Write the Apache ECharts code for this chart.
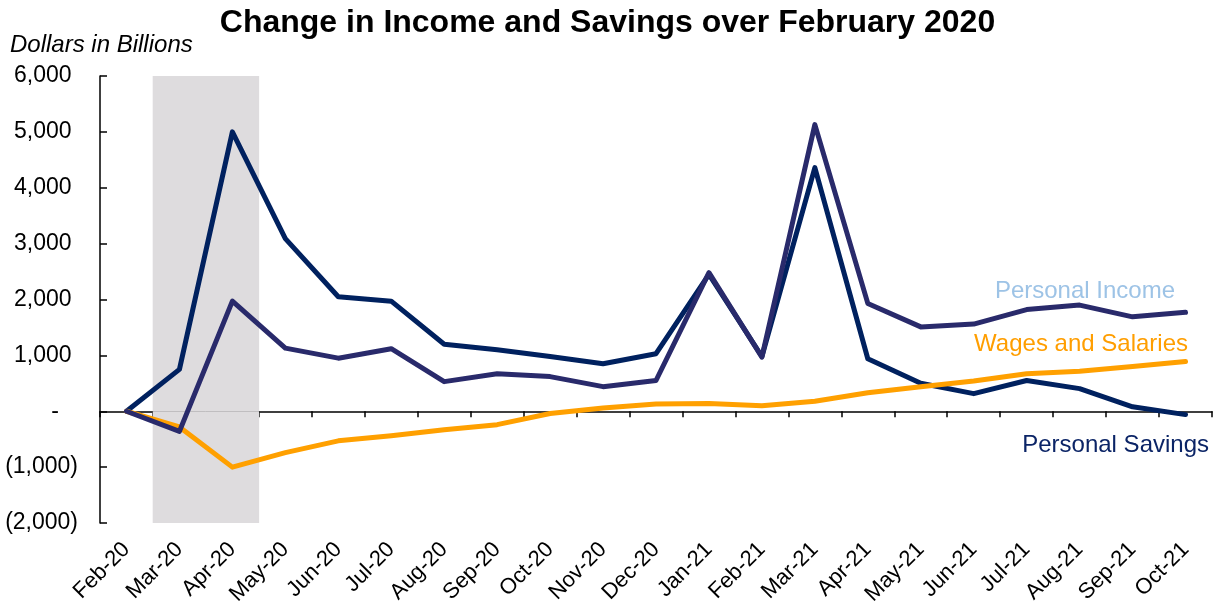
<!DOCTYPE html>
<html>
<head>
<meta charset="utf-8">
<script src="https://cdn.jsdelivr.net/npm/echarts@6/dist/echarts.min.js"></script>
<style>
  html, body { margin: 0; padding: 0; background: #ffffff; }
  #chart { width: 1215px; height: 613px; }
</style>
</head>
<body>
<div id="chart"></div>
<script>
// Months since February 2020
const months = ['Feb-20','Mar-20','Apr-20','May-20','Jun-20','Jul-20','Aug-20','Sep-20','Oct-20','Nov-20','Dec-20',
                'Jan-21','Feb-21','Mar-21','Apr-21','May-21','Jun-21','Jul-21','Aug-21','Sep-21','Oct-21'];

// Change relative to February 2020, dollars in billions (annualized)
const personalSavings = [0, 750, 5000, 3090, 2050, 1970, 1200, 1100, 980, 850, 1030,
                         2450, 980, 4360, 940, 500, 315, 550, 405, 80, -60];
const personalIncome  = [0, -360, 1970, 1130, 950, 1120, 530, 670, 620, 440, 550,
                         2480, 970, 5130, 1930, 1510, 1560, 1820, 1900, 1690, 1770];
const wagesSalaries   = [0, -280, -1000, -740, -530, -440, -330, -240, -40, 60, 130,
                         140, 100, 180, 330, 440, 540, 670, 715, 800, 890];

// Recession band (Mar-20 to Apr-20), spanning the full value range
const recessionTop    = [null, 6000, 6000, null, null, null, null, null, null, null, null,
                         null, null, null, null, null, null, null, null, null, null];
const recessionBottom = [null, -2000, -2000, null, null, null, null, null, null, null, null,
                         null, null, null, null, null, null, null, null, null, null];

const yTicks = { min: -2000, max: 6000, interval: 1000 };

const FONT = 'Arial, "Liberation Sans", sans-serif';

function fmtValue(v) {
  if (v === 0) return '-   ';
  const s = Math.abs(v).toLocaleString('en-US');
  return v < 0 ? '(' + s + ')' : s + ' ';
}

const chart = echarts.init(document.getElementById('chart'), null, { renderer: 'canvas' });

const lineBase = {
  type: 'line',
  symbol: 'none',
  smooth: false,
  xAxisIndex: 0,
  yAxisIndex: 0
};

chart.setOption({
  animation: false,
  backgroundColor: '#ffffff',
  title: {
    text: 'Change in Income and Savings over February 2020',
    left: 'center',
    top: 2,
    textStyle: { fontFamily: FONT, fontSize: 32, fontWeight: 'bold', color: '#000000' }
  },
  grid: { left: 100, right: 3, top: 76, bottom: 90, containLabel: false },
  xAxis: [
    {
      type: 'category',
      data: months,
      boundaryGap: true,
      position: 'bottom',
      axisLine: { onZero: false, show: false },
      axisTick: { show: false },
      axisLabel: {
        rotate: 45,
        interval: 0,
        margin: 23,
        fontFamily: FONT,
        fontSize: 22,
        color: '#000000'
      },
      splitLine: { show: false }
    },
    {
      type: 'category',
      data: months,
      boundaryGap: true,
      position: 'bottom',
      axisLine: { onZero: true, show: true, lineStyle: { color: '#000000', width: 1.5 } },
      axisTick: { show: true, inside: false, length: 6, alignWithLabel: false, interval: 0,
                  lineStyle: { color: '#000000', width: 1.5 } },
      axisLabel: { show: false },
      splitLine: { show: false }
    }
  ],
  yAxis: {
    type: 'value',
    min: yTicks.min,
    max: yTicks.max,
    interval: yTicks.interval,
    axisLine: { show: true, onZero: false, lineStyle: { color: '#000000', width: 1.5 } },
    axisTick: { show: true, inside: true, length: 7, lineStyle: { color: '#000000', width: 1.5 } },
    splitLine: { show: false },
    axisLabel: {
      formatter: fmtValue,
      margin: 22,
      fontFamily: FONT,
      fontSize: 23,
      color: '#000000'
    }
  },
  graphic: [
    {
      type: 'text', left: 10, top: 33,
      style: { text: 'Dollars in Billions', fontFamily: FONT, fontSize: 24, fontStyle: 'italic', fill: '#000000' }
    },
    {
      type: 'text', right: 40, top: 279,
      style: { text: 'Personal Income', fontFamily: FONT, fontSize: 24, fill: '#9dc3e6' }
    },
    {
      type: 'text', right: 27, top: 332,
      style: { text: 'Wages and Salaries', fontFamily: FONT, fontSize: 24, fill: '#ff9e00' }
    },
    {
      type: 'text', right: 6, top: 433,
      style: { text: 'Personal Savings', fontFamily: FONT, fontSize: 24, fill: '#0b2466' }
    }
  ],
  series: [
    {
      name: 'Recession',
      type: 'bar',
      data: recessionTop,
      barWidth: '101%',
      barGap: '-100%',
      itemStyle: { color: '#dedcde' },
      silent: true,
      z: 1
    },
    {
      name: 'Recession low',
      type: 'bar',
      data: recessionBottom,
      barWidth: '101%',
      barGap: '-100%',
      itemStyle: { color: '#dedcde' },
      silent: true,
      z: 1
    },
    Object.assign({}, lineBase, {
      name: 'Personal Savings',
      data: personalSavings,
      lineStyle: { color: '#00215f', width: 5, join: 'round', cap: 'round' },
      itemStyle: { color: '#00215f' },
      z: 3
    }),
    Object.assign({}, lineBase, {
      name: 'Wages and Salaries',
      data: wagesSalaries,
      lineStyle: { color: '#ffa000', width: 5, join: 'round', cap: 'round' },
      itemStyle: { color: '#ffa000' },
      z: 4
    }),
    Object.assign({}, lineBase, {
      name: 'Personal Income',
      data: personalIncome,
      lineStyle: { color: '#292a6b', width: 5, join: 'round', cap: 'round' },
      itemStyle: { color: '#292a6b' },
      z: 5
    })
  ]
});
</script>
</body>
</html>
